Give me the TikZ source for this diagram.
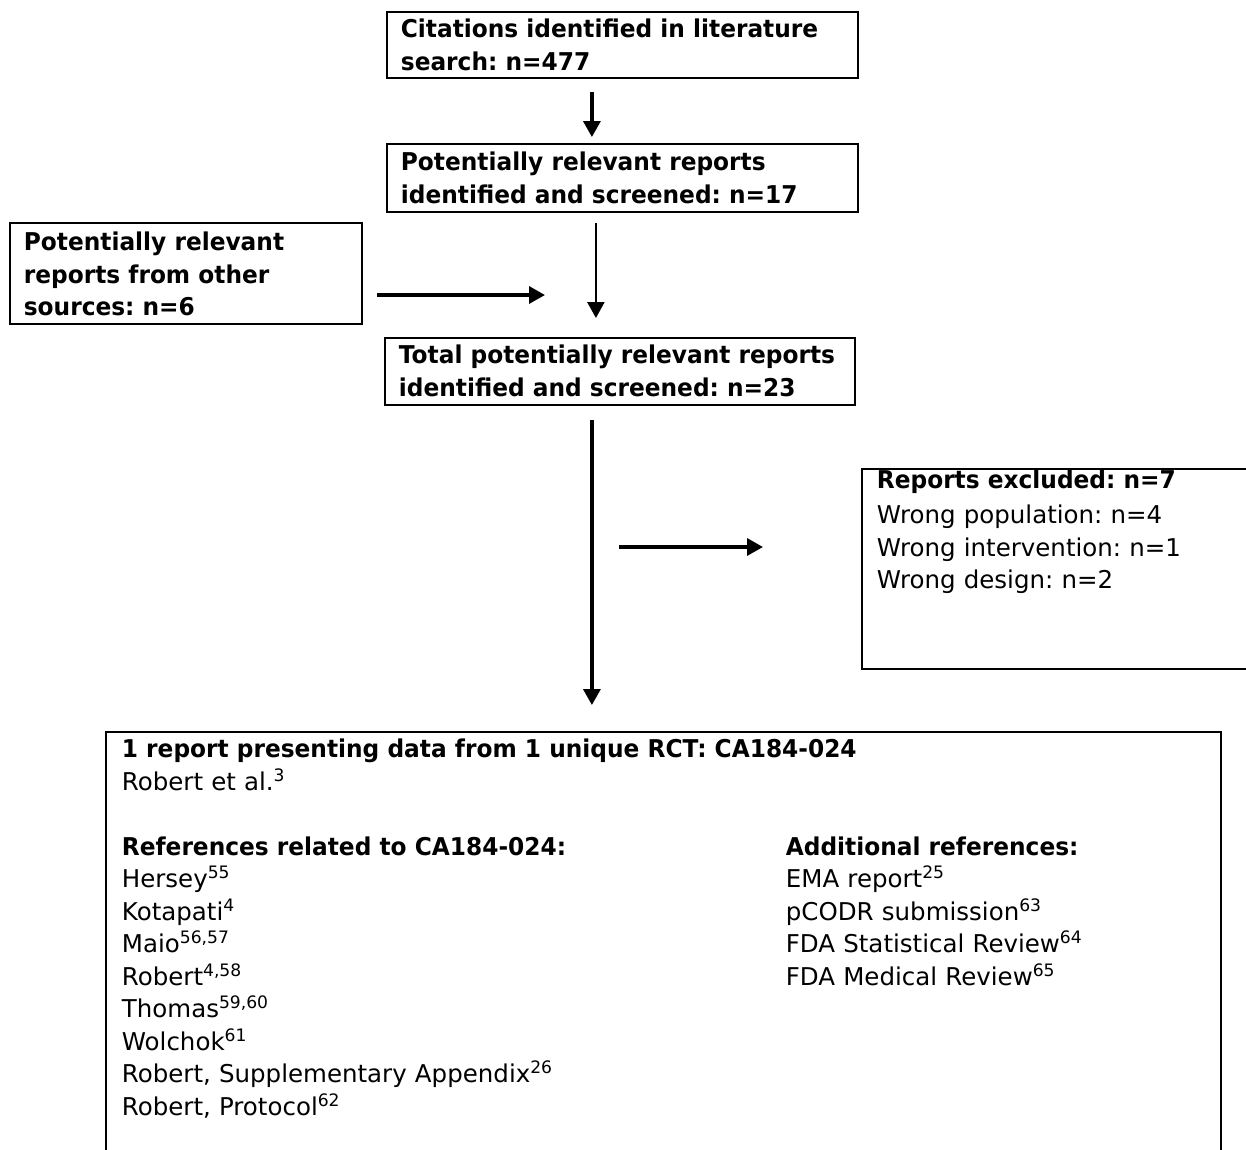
\documentclass[tikz,border=0pt]{standalone}
\usepackage{fontspec}
\setmainfont{DejaVu Sans}[BoldFeatures={FakeStretch=0.95}]
\frenchspacing
\usetikzlibrary{arrows.meta,positioning,calc}

\begin{document}
\begin{tikzpicture}[
    x=1pt, y=-1pt,
    flowbox/.style={draw, line width=1.8pt, anchor=north west, align=left,
                    inner xsep=14pt, inner ysep=0pt,
                    font=\fontsize{24.5}{32.5}\selectfont},
    headbox/.style={flowbox, font=\fontsize{24.5}{32.5}\selectfont\bfseries},
    arr/.style={-{Triangle[length=16pt,width=17pt]}, line width=3.4pt},
]
\useasboundingbox (0,0) rectangle (1246,1149);
\clip (0,0) rectangle (1246,1149);

% ============ SEARCH ============
\node[headbox, text width=443pt, text height=26pt, text depth=40pt] (cite) at (386,11)
  {Citations identified in literature\\search: n=477};
\node[headbox, text width=443pt, text height=27pt, text depth=41pt] (screen) at (386,143)
  {Potentially relevant reports\\identified and screened: n=17};
\node[headbox, text width=324pt, text height=28pt, text depth=73pt] (other) at (9,222)
  {Potentially relevant\\reports from other\\sources: n=6};
\node[headbox, text width=442pt, text height=26pt, text depth=41pt] (total) at (384,337)
  {Total potentially relevant reports\\identified and screened: n=23};

% ============ EXCLUDED ============
\node[flowbox, inner xsep=15pt, text width=400pt, text height=20pt, text depth=180pt] (excl) at (861,468) {
  \textbf{Reports excluded: n=7}\\[2.5pt]
  Wrong population: n=4\\
  Wrong intervention: n=1\\
  Wrong design: n=2
};

% ============ INCLUDED ============
\node[flowbox, inner xsep=16pt, text width=1083pt, text height=26pt, text depth=443pt] (final) at (105,731) {
  \textbf{1 report presenting data from 1 unique RCT: CA184-024}\\
  Robert et al.\textsuperscript{3}\\[32.5pt]
  \parbox[t]{664pt}{\textbf{References related to CA184-024:}\\
    Hersey\textsuperscript{55}\\
    Kotapati\textsuperscript{4}\\
    Maio\textsuperscript{56,57}\\
    Robert\textsuperscript{4,58}\\
    Thomas\textsuperscript{59,60}\\
    Wolchok\textsuperscript{61}\\
    Robert, Supplementary Appendix\textsuperscript{26}\\
    Robert, Protocol\textsuperscript{62}}%
  \parbox[t]{400pt}{\textbf{Additional references:}\\
    EMA report\textsuperscript{25}\\
    pCODR submission\textsuperscript{63}\\
    FDA Statistical Review\textsuperscript{64}\\
    FDA Medical Review\textsuperscript{65}}
};

% ============ ARROWS ============
\coordinate (mergept) at (545,295);
\coordinate (exclsrc) at (619,547);
\draw[arr, shorten <=13pt, shorten >=6pt] ([xshift=-30.5pt]cite.south) -- ([xshift=-30.5pt]cite.south |- screen.north);
\draw[arr, line width=2.4pt, shorten <=10pt, shorten >=19pt] ([xshift=-26.5pt]screen.south) -- ([xshift=-26.5pt]screen.south |- total.north);
\draw[arr, shorten <=14pt] (other.east |- mergept) -- (mergept);
\draw[arr, shorten <=14pt, shorten >=26pt] ([xshift=-28pt]total.south) -- ([xshift=-28pt]total.south |- final.north);
\draw[arr, shorten >=98pt] (exclsrc) -- (excl.west |- exclsrc);

\end{tikzpicture}
\end{document}
